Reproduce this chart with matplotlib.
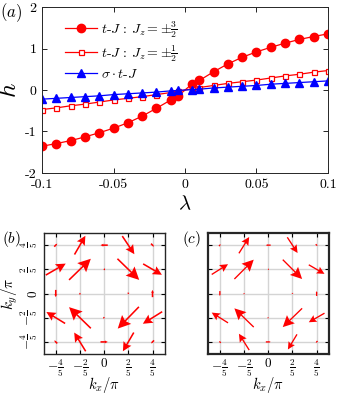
import numpy as np
import matplotlib
matplotlib.use("Agg")
import matplotlib.pyplot as plt

plt.rcParams["font.family"] = "cmr10"
plt.rcParams["mathtext.fontset"] = "cm"
plt.rcParams["axes.unicode_minus"] = False
plt.rcParams["axes.formatter.use_mathtext"] = True

# ---- panel (a) data
lam = [-0.1, -0.09, -0.08, -0.07, -0.06, -0.05, -0.04, -0.03, -0.02, -0.01, -0.005,
       0.005, 0.01, 0.02, 0.03, 0.04, 0.05, 0.06, 0.07, 0.08, 0.09, 0.1]
h_32 = [-1.355, -1.29, -1.22, -1.13, -1.03, -0.92, -0.79, -0.63, -0.44, -0.24, -0.15,
        0.15, 0.23, 0.44, 0.63, 0.79, 0.92, 1.03, 1.13, 1.22, 1.29, 1.355]
h_12 = [-0.47, -0.43, -0.38, -0.34, -0.29, -0.24, -0.20, -0.16, -0.11, -0.06, -0.03,
        0.03, 0.06, 0.11, 0.16, 0.20, 0.24, 0.29, 0.34, 0.38, 0.43, 0.47]
h_sig = [-0.22, -0.20, -0.18, -0.16, -0.14, -0.11, -0.09, -0.07, -0.05, -0.02, -0.01,
         0.01, 0.02, 0.05, 0.07, 0.09, 0.11, 0.14, 0.16, 0.18, 0.20, 0.22]

xticks_a = [-0.1, -0.05, 0, 0.05, 0.1]
xticklabels_a = ["-0.1", "-0.05", "0", "0.05", "0.1"]
yticks_a = [-2, -1, 0, 1, 2]
yticklabels_a = ["-2", "-1", "0", "1", "2"]

# ---- panels (b), (c): arrow field on a 5x5 grid (rows top -> bottom)
KX = [-0.8, -0.4, 0.0, 0.4, 0.8]
KY = [0.8, 0.4, 0.0, -0.4, -0.8]
U_b = [[0.05, 0.18, -0.12, 0.20, 0.05],
       [0.33, 0.36, -0.03, 0.36, 0.31],
       [0.00, 0.00, 0.00, 0.00, 0.00],
       [-0.31, -0.36, 0.03, -0.35, -0.32],
       [-0.05, -0.19, 0.12, -0.18, -0.05]]
V_b = [[0.05, 0.31, 0.00, -0.30, -0.05],
       [0.19, 0.35, 0.00, -0.35, -0.18],
       [-0.12, 0.03, 0.00, -0.03, 0.12],
       [0.19, 0.35, 0.00, -0.36, -0.20],
       [0.05, 0.31, 0.00, -0.31, -0.05]]
U_c = [[0.03, 0.17, -0.08, 0.17, 0.03],
       [0.27, 0.32, -0.02, 0.32, 0.26],
       [0.00, 0.00, 0.00, 0.00, 0.00],
       [-0.27, -0.32, 0.02, -0.32, -0.26],
       [-0.03, -0.17, 0.08, -0.15, -0.03]]
V_c = [[0.03, 0.27, 0.00, -0.26, -0.03],
       [0.17, 0.32, 0.00, -0.32, -0.15],
       [-0.08, 0.02, 0.00, -0.02, 0.08],
       [0.17, 0.31, 0.00, -0.31, -0.15],
       [0.03, 0.27, 0.00, -0.25, -0.03]]
kticks = [-0.8, -0.4, 0, 0.4, 0.8]
kticklabels = [r"$-\frac{4}{5}$", r"$-\frac{2}{5}$", r"$0$", r"$\frac{2}{5}$", r"$\frac{4}{5}$"]

fig = plt.figure(figsize=(3.37, 3.94), dpi=100)

# ---------------- (a)
ax = fig.add_axes([0.125, 0.561, 0.848, 0.421])
ax.plot(lam, h_32, "-o", color="r", lw=0.9, ms=6, label=r"$t$-$J$ : $J_z=\pm\frac{3}{2}$")
ax.plot(lam, h_12, "-s", color="r", lw=0.9, ms=3.6, mfc="white", mew=0.9,
        label=r"$t$-$J$ : $J_z=\pm\frac{1}{2}$")
ax.plot(lam, h_sig, "-^", color="b", lw=0.9, ms=6, label=r"$\sigma\cdot t$-$J$")
ax.set_xlim(-0.1, 0.1)
ax.set_ylim(-2, 2)
ax.set_xticks(xticks_a)
ax.set_xticklabels(xticklabels_a)
ax.set_yticks(yticks_a)
ax.set_yticklabels(yticklabels_a)
ax.tick_params(direction="in", top=True, right=True, length=3.5, width=0.6,
               labelsize=10, pad=4)
for s in ax.spines.values():
    s.set_linewidth(0.7)
    s.set_color("#262626")
ax.set_xlabel(r"$\lambda$", fontsize=15, labelpad=3)
ax.set_ylabel(r"$h$", fontsize=18)
ax.yaxis.set_label_coords(-0.075, 0.5)
leg = ax.legend(loc="upper left", bbox_to_anchor=(0.05, 0.98), frameon=False,
                fontsize=10, handlelength=2.3, handletextpad=0.3, labelspacing=0.25,
                borderaxespad=0.2)
fig.text(0.0, 0.967, r"$(a)$", fontsize=12, va="center", ha="left")


def draw_field(ax, U, V, w):
    for j, ky in enumerate(KY):
        for i, kx in enumerate(KX):
            u, v = U[j][i], V[j][i]
            L = np.hypot(u, v)
            if L == 0:
                continue
            dw = 2 * w  # shaft width in data units (axes spans 2 units)
            ax.quiver(kx, ky, u, v, angles="xy", scale_units="xy", scale=1,
                      pivot="middle", color="r", width=w,
                      headlength=0.42 * L / dw, headaxislength=0.36 * L / dw,
                      headwidth=0.42 * L / dw, minlength=0.1, minshaft=0.5,
                      zorder=3)


def style_k(ax, frame_lw, ylabels):
    ax.set_xlim(-1, 1)
    ax.set_ylim(-1, 1)
    ax.set_aspect("equal")
    ax.set_xticks(kticks)
    ax.set_yticks(kticks)
    ax.set_xticklabels(kticklabels)
    if ylabels:
        ax.set_yticklabels(kticklabels, rotation=90, va="center")
    else:
        ax.set_yticklabels([])
    ax.grid(True, color="#d4d4d4", lw=1.0)
    ax.set_axisbelow(True)
    ax.tick_params(direction="in", top=True, right=True, length=3, width=0.8,
                   labelsize=9.5, pad=2.5)
    for s in ax.spines.values():
        s.set_linewidth(frame_lw)
        s.set_color("#262626")
    ax.set_xlabel(r"$k_x/\pi$", fontsize=10.5, labelpad=-2.5)


axb = fig.add_axes([0.128, 0.1015, 0.362, 0.307])
draw_field(axb, U_b, V_b, 0.013)
style_k(axb, 1.0, True)
axb.set_ylabel(r"$k_y/\pi$", fontsize=11, labelpad=-1)
fig.text(0.005, 0.393, r"$(b)$", fontsize=11, va="center", ha="left")

axc = fig.add_axes([0.615, 0.1015, 0.362, 0.307])
draw_field(axc, U_c, V_c, 0.011)
style_k(axc, 1.6, False)
fig.text(0.54, 0.393, r"$(c)$", fontsize=11, va="center", ha="left")

fig.savefig("out.png", dpi=100)
